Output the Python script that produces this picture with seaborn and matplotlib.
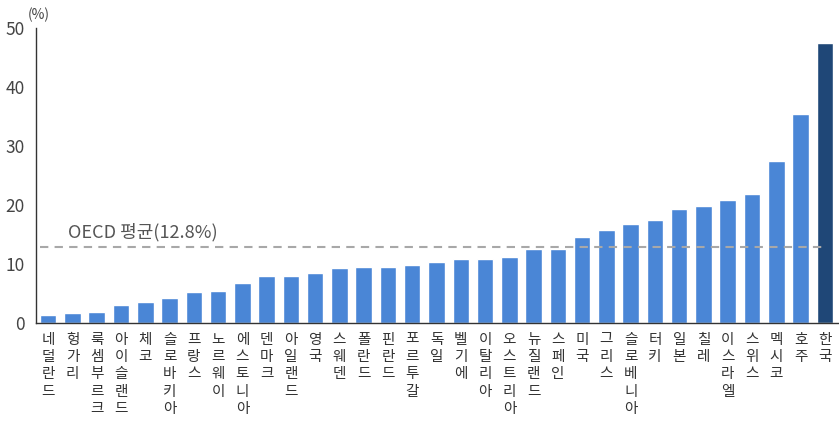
import matplotlib
matplotlib.use("Agg")
import matplotlib.pyplot as plt
import seaborn as sns
import pandas as pd

countries = ["네덜란드", "헝가리", "룩셈부르크", "아이슬랜드", "체코", "슬로바키아", "프랑스",
             "노르웨이", "에스토니아", "덴마크", "아일랜드", "영국", "스웨덴", "폴란드", "핀란드",
             "포르투갈", "독일", "벨기에", "이탈리아", "오스트리아", "뉴질랜드", "스페인", "미국",
             "그리스", "슬로베니아", "터키", "일본", "칠레", "이스라엘", "스위스", "멕시코",
             "호주", "한국"]
values = [1.3, 1.6, 1.8, 3.0, 3.6, 4.2, 5.2, 5.4, 6.7, 8.0, 8.0, 8.4, 9.3, 9.5, 9.5,
          9.8, 10.3, 10.8, 10.8, 11.2, 12.6, 12.6, 14.6, 15.8, 16.7, 17.5, 19.3, 19.8,
          20.8, 21.8, 27.5, 35.5, 47.4]
oecd_avg = 12.8
oecd_label = "OECD 평균(12.8%)"
yticks = [0, 10, 20, 30, 40, 50]

sns.set_theme(style="white")
plt.rcParams['font.family'] = ['Noto Sans CJK KR', 'DejaVu Sans']

df = pd.DataFrame({"country": countries, "value": values})
palette = ["#4a86d6"] * (len(countries) - 1) + ["#1f4777"]

fig = plt.figure(figsize=(8.39, 4.26), dpi=100)
ax = fig.add_axes([0.043, 0.242, 0.956, 0.692])
sns.barplot(data=df, x="country", y="value", hue="country", palette=palette,
            legend=False, width=0.68, saturation=1, ax=ax)

# OECD average, dashed across the bars
ax.axhline(oecd_avg, xmin=0.005, xmax=0.985, color="#a8a8a8", lw=1.5,
           ls=(0, (4, 3)), zorder=5)
ax.text(0.8, oecd_avg + 2.5, oecd_label, fontsize=13, color="#555555", va="center")

ax.set_xlim(-0.5, 32.55)
ax.set_ylim(0, 50)
ax.set_yticks(yticks)
ax.set_yticklabels([str(t) for t in yticks], fontsize=12.5, color="#444444")
ax.set_xticks([i for i in range(len(countries))])
# vertical labels: one character per line
ax.set_xticklabels(["\n".join(c) for c in countries], fontsize=10.5, color="#333333",
                   va="top", linespacing=1.3)
ax.tick_params(axis="x", length=0, pad=7)
ax.set_xticks([i + 0.5 for i in range(len(countries))], minor=True)
ax.tick_params(axis="x", which="minor", length=3, direction="in", color="#333333")
ax.tick_params(axis="y", length=4, direction="in", color="#333333", pad=8)
ax.set_xlabel("")
ax.set_ylabel("")
for s in ["top", "right"]:
    ax.spines[s].set_visible(False)
for s in ["left", "bottom"]:
    ax.spines[s].set_color("#333333")
    ax.spines[s].set_linewidth(1.0)

fig.text(0.033, 0.955, "(%)", fontsize=10, color="#444444")

fig.savefig("out.png", dpi=100)
